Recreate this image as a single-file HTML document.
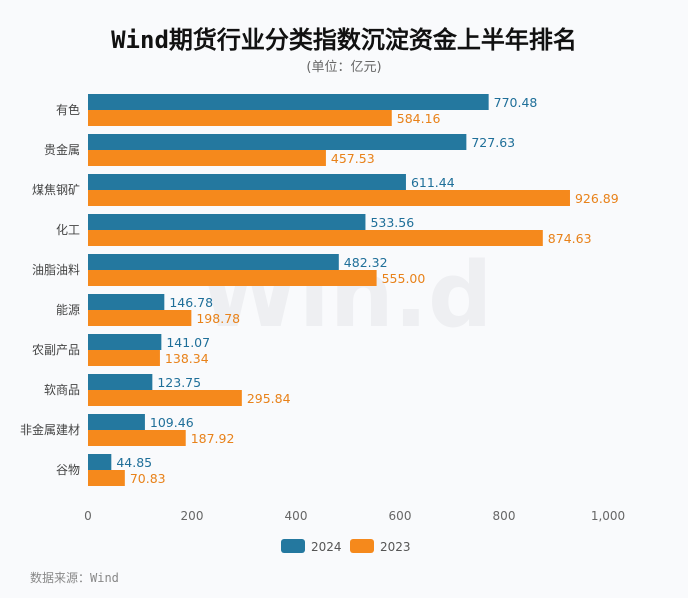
<!DOCTYPE html>
<html><head><meta charset="utf-8">
<style>
body{margin:0;background:#f9fafc;}
#wrap{position:relative;width:688px;height:598px;overflow:hidden;background:#f9fafc;}
svg text{font-family:"DejaVu Sans","Noto Sans CJK SC",sans-serif;}
svg text.wq{font-family:"WenQuanYi Zen Hei",monospace;}
</style></head>
<body>
<div id="wrap">
<svg id="chart" width="688" height="598" xmlns="http://www.w3.org/2000/svg">
<text class="wq" x="344" y="48" text-anchor="middle" font-size="24" font-weight="bold" fill="#111">Wind期货行业分类指数沉淀资金上半年排名</text>
<text x="344" y="71" text-anchor="middle" font-size="13" fill="#666">(单位：亿元)</text>
<text x="346" y="326" text-anchor="middle" font-size="90" font-weight="bold" fill="#eeeff2">Win.d</text>
<g id="bars"></g>
<g id="xticks"></g>
<g>
<rect x="281" y="539" width="24" height="14" rx="3" fill="#24789f"/>
<text x="311" y="551" font-size="12" fill="#555">2024</text>
<rect x="350" y="539" width="24" height="14" rx="3" fill="#f5891c"/>
<text x="380" y="551" font-size="12" fill="#555">2023</text>
</g>
<text class="wq" x="30" y="582" font-size="12" fill="#888">数据来源：Wind</text>
</svg>
</div>
<script>
const categories=["有色","贵金属","煤焦钢矿","化工","油脂油料","能源","农副产品","软商品","非金属建材","谷物"];
const values2024=[770.48,727.63,611.44,533.56,482.32,146.78,141.07,123.75,109.46,44.85];
const values2023=[584.16,457.53,926.89,874.63,555.00,198.78,138.34,295.84,187.92,70.83];
const tickValues=[0,200,400,600,800,1000];
const tickLabels=["0","200","400","600","800","1,000"];
const NS="http://www.w3.org/2000/svg";
const x0=88,x1=608,xmax=1000;
function xs(v){return x0+(v/xmax)*(x1-x0);}
function yRow(i){return 110+i*40;}
const g=document.getElementById("bars");
function mk(tag,attrs){const e=document.createElementNS(NS,tag);for(const k in attrs)e.setAttribute(k,attrs[k]);return e;}
categories.forEach((c,i)=>{
  const yc=yRow(i);
  const t=mk("text",{x:80,y:yc+4,"text-anchor":"end","font-size":12,fill:"#444"});
  t.textContent=c;
  
  
  g.appendChild(t);
  const b1=mk("rect",{x:x0,y:yc-16,width:xs(values2024[i])-x0,height:16,fill:"#24789f"});
  
  
  g.appendChild(b1);
  const b2=mk("rect",{x:x0,y:yc,width:xs(values2023[i])-x0,height:16,fill:"#f5891c"});
  
  
  g.appendChild(b2);
  const l1=mk("text",{x:xs(values2024[i])+5,y:yc-3,"font-size":12.5,fill:"#1f6f99"});
  l1.textContent=values2024[i].toFixed(2);
  
  
  g.appendChild(l1);
  const l2=mk("text",{x:xs(values2023[i])+5,y:yc+13,"font-size":12.5,fill:"#e8821a"});
  l2.textContent=values2023[i].toFixed(2);
  
  
  g.appendChild(l2);
});
const xt=document.getElementById("xticks");
tickValues.forEach((v,i)=>{
  const t=mk("text",{x:xs(v),y:520,"text-anchor":"middle","font-size":12,fill:"#666"});
  t.textContent=tickLabels[i];
  
  
  xt.appendChild(t);
});
</script>
</body></html>
